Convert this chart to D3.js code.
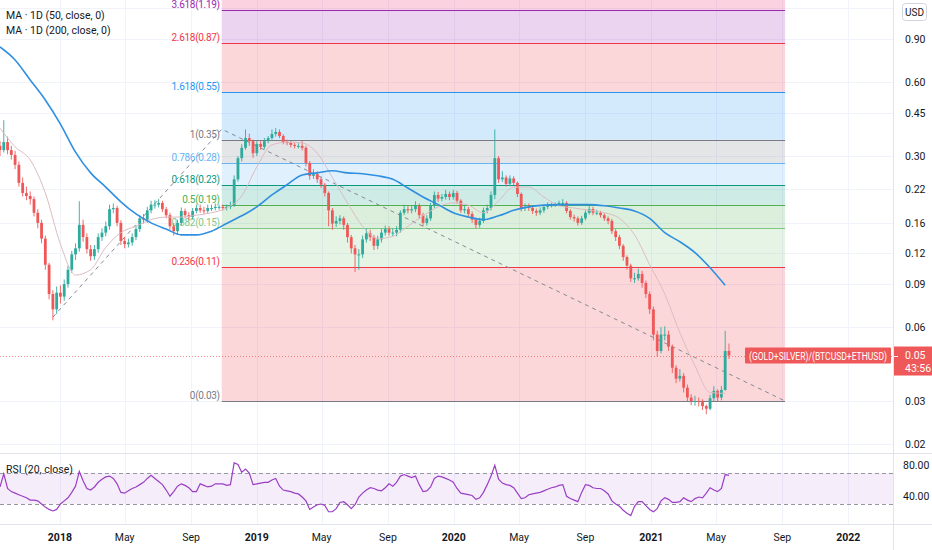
<!DOCTYPE html>
<html>
<head>
<meta charset="utf-8">
<script src="https://cdnjs.cloudflare.com/ajax/libs/d3/7.8.5/d3.min.js"></script>
<style>
  body { margin: 0; background: #fff; }
  svg { display: block; font-family: Roboto, "Liberation Sans", sans-serif; }
</style>
</head>
<body>
<svg width="932" height="550"></svg>
<script>

// DATA ––––––––––––––––––––––––––––––––––––––––––––––––––––––––––––––––

var startDate = "2017-09-12";   // first weekly candle
var candleStep = 7;             // days per candle
var openFirst = 0.330;

var closes = [
  0.317,0.342,0.317,0.303,0.276,0.233,0.212,0.206,0.200,0.176,
  0.160,0.138,0.108,0.082,0.071,0.083,0.080,0.090,0.103,0.119,
  0.126,0.157,0.140,0.125,0.117,0.125,0.140,0.146,0.155,0.182,
  0.184,0.160,0.135,0.131,0.133,0.140,0.151,0.167,0.165,0.180,
  0.190,0.190,0.193,0.182,0.172,0.155,0.148,0.160,0.179,0.172,
  0.169,0.179,0.184,0.180,0.179,0.184,0.184,0.186,0.186,0.184,
  0.186,0.189,0.241,0.294,0.324,0.355,0.345,0.308,0.336,0.327,
  0.345,0.355,0.369,0.376,0.362,0.342,0.339,0.333,0.330,0.330,
  0.324,0.281,0.249,0.253,0.241,0.229,0.212,0.180,0.159,0.163,
  0.167,0.157,0.140,0.126,0.119,0.119,0.137,0.145,0.140,0.129,
  0.137,0.146,0.151,0.146,0.146,0.150,0.176,0.182,0.180,0.182,
  0.188,0.172,0.160,0.167,0.188,0.208,0.201,0.204,0.210,0.204,
  0.212,0.197,0.180,0.182,0.174,0.165,0.157,0.163,0.180,0.184,
  0.208,0.294,0.241,0.245,0.231,0.243,0.233,0.210,0.184,0.186,
  0.184,0.179,0.176,0.180,0.186,0.189,0.189,0.190,0.193,0.193,
  0.179,0.169,0.167,0.160,0.167,0.176,0.182,0.176,0.176,0.172,
  0.167,0.163,0.148,0.140,0.129,0.116,0.107,0.095,0.095,0.099,
  0.091,0.082,0.071,0.056,0.048,0.056,0.056,0.050,0.041,0.037,
  0.038,0.034,0.031,0.030,0.030,0.0297,0.0286,0.0279,0.0308,0.033,
  0.031,0.0333,0.048,0.046
];

var highs = [
  0.345,0.42,0.36,0.33,0.315,0.285,0.245,0.225,0.215,0.205,
  0.182,0.165,0.142,0.11,0.085,0.088,0.089,0.094,0.107,0.123,
  0.132,0.196,0.165,0.145,0.13,0.13,0.145,0.152,0.162,0.19,
  0.192,0.188,0.164,0.14,0.138,0.145,0.156,0.172,0.174,0.186,
  0.197,0.198,0.20,0.197,0.186,0.176,0.16,0.165,0.185,0.183,
  0.177,0.184,0.19,0.19,0.186,0.19,0.19,0.192,0.19,0.19,
  0.19,0.195,0.25,0.30,0.335,0.385,0.37,0.35,0.345,0.345,
  0.355,0.362,0.385,0.39,0.385,0.368,0.35,0.345,0.34,0.338,
  0.345,0.33,0.286,0.265,0.26,0.246,0.233,0.215,0.184,0.17,
  0.172,0.17,0.16,0.143,0.13,0.125,0.142,0.152,0.15,0.143,
  0.142,0.151,0.156,0.155,0.152,0.155,0.18,0.19,0.188,0.188,
  0.196,0.192,0.176,0.172,0.193,0.215,0.214,0.21,0.218,0.215,
  0.218,0.216,0.20,0.188,0.186,0.178,0.168,0.168,0.185,0.19,
  0.215,0.385,0.30,0.26,0.25,0.25,0.248,0.236,0.213,0.192,
  0.192,0.188,0.183,0.185,0.19,0.194,0.193,0.194,0.197,0.20,
  0.196,0.182,0.173,0.17,0.171,0.18,0.19,0.186,0.181,0.179,
  0.175,0.17,0.166,0.151,0.143,0.131,0.118,0.109,0.10,0.104,
  0.102,0.093,0.084,0.073,0.058,0.06,0.0605,0.058,0.051,0.042,
  0.0405,0.039,0.035,0.032,0.0315,0.031,0.0305,0.029,0.0318,0.0345,
  0.0335,0.0345,0.058,0.0515
];

var lows = [
  0.30,0.31,0.305,0.29,0.265,0.225,0.205,0.198,0.19,0.17,
  0.152,0.132,0.103,0.078,0.064,0.068,0.075,0.077,0.087,0.10,
  0.113,0.122,0.134,0.12,0.112,0.113,0.121,0.135,0.141,0.15,
  0.175,0.155,0.13,0.126,0.127,0.129,0.136,0.147,0.159,0.16,
  0.175,0.183,0.185,0.177,0.167,0.15,0.142,0.144,0.156,0.167,
  0.164,0.165,0.175,0.176,0.174,0.175,0.179,0.18,0.181,0.18,
  0.18,0.182,0.186,0.236,0.285,0.318,0.33,0.295,0.30,0.318,
  0.32,0.338,0.35,0.36,0.355,0.335,0.332,0.325,0.322,0.322,
  0.316,0.272,0.24,0.242,0.233,0.222,0.205,0.155,0.15,0.154,
  0.158,0.15,0.133,0.12,0.101,0.103,0.115,0.133,0.135,0.124,
  0.125,0.133,0.142,0.142,0.141,0.141,0.146,0.172,0.175,0.175,
  0.177,0.166,0.155,0.156,0.163,0.184,0.195,0.196,0.199,0.198,
  0.199,0.192,0.176,0.175,0.169,0.16,0.152,0.153,0.16,0.175,
  0.18,0.20,0.233,0.235,0.225,0.226,0.228,0.204,0.178,0.179,
  0.179,0.174,0.171,0.172,0.176,0.182,0.185,0.186,0.187,0.188,
  0.175,0.165,0.162,0.156,0.157,0.164,0.173,0.172,0.172,0.168,
  0.163,0.158,0.144,0.135,0.125,0.112,0.103,0.092,0.091,0.093,
  0.087,0.079,0.068,0.053,0.0455,0.047,0.053,0.048,0.039,0.0355,
  0.036,0.0325,0.0298,0.0288,0.0287,0.0285,0.0276,0.0265,0.0275,0.030,
  0.0298,0.0302,0.033,0.0445
];

var maStep = 28;   // days between moving average samples
var ma50 = [
  0.390,0.327,0.289,0.212,0.131,0.098,0.103,0.127,0.146,0.155,
  0.165,0.169,0.169,0.172,0.176,0.184,0.206,0.271,0.333,0.342,
  0.339,0.308,0.245,0.193,0.155,0.138,0.141,0.155,0.171,0.186,
  0.193,0.189,0.176,0.197,0.224,0.224,0.204,0.188,0.184,0.180,
  0.176,0.167,0.143,0.108,0.082,0.057,0.0417,0.0325,0.0322
];
var ma200 = [
  0.836,0.740,0.613,0.508,0.405,0.311,0.256,0.224,0.195,0.174,
  0.160,0.151,0.143,0.143,0.148,0.159,0.171,0.186,0.208,0.229,
  0.251,0.256,0.261,0.256,0.254,0.249,0.241,0.222,0.204,0.190,
  0.176,0.169,0.165,0.171,0.180,0.186,0.189,0.190,0.190,0.190,
  0.188,0.184,0.179,0.167,0.146,0.134,0.121,0.105,0.089
];

var rsi = [
  52,69,50,46,44,42,40,38,35,35,
  34,30,26,23,21,23,30,34,38,45,
  53,72,60,50,48,52,58,62,65,66,
  63,56,45,44,47,50,52,55,58,63,
  67,63,59,55,48,40,46,53,56,54,
  51,46,46,56,54,52,53,56,56,56,
  54,55,83,81,71,75,70,55,56,57,
  58,58,61,63,53,48,47,46,44,43,
  39,34,23,26,29,30,28,20,20,24,
  32,33,29,24,29,39,44,48,51,50,
  48,47,51,56,53,58,66,68,66,64,
  66,55,46,47,52,63,66,65,63,61,
  58,50,44,43,42,41,36,38,45,55,
  66,80,62,57,55,54,51,44,37,38,
  42,43,44,45,47,49,51,52,54,55,
  40,37,35,33,45,55,54,51,50,50,
  47,43,34,30,27,22,18,15,27,33,
  33,28,23,20,24,34,38,36,32,32,
  33,38,35,33,37,39,38,44,51,48,
  46,50,68,67
];

// trend based fib extension: A -> B, projected from C
var fibA = ["2017-12-19", 0.066],
    fibB = ["2018-10-28", 0.386],
    fibC = ["2021-09-06", 0.030];
var fibRatios = [0, 0.236, 0.382, 0.5, 0.618, 0.786, 1, 1.618, 2.618, 3.618, 4.236];
var fibColors = ["#787b86", "#f23645", "#81c784", "#4caf50", "#089981", "#64b5f6",
                 "#787b86", "#2196f3", "#f23645", "#9c27b0", "#e91e63"];

var priceTicks = [1.2, 0.9, 0.6, 0.45, 0.3, 0.22, 0.16, 0.12, 0.09, 0.06, 0.03, 0.02];
var rsiTicks = [80, 40];
var rsiBand = [30, 70];
var lastPrice = 0.046, lastLabel = "0.05", countdown = "43:56";
var symbol = "(GOLD+SILVER)/(BTCUSD+ETHUSD)";
var legend = ["MA · 1D (50, close, 0)", "MA · 1D (200, close, 0)"];
var rsiLegend = "RSI (20, close)";


// D3 ––––––––––––––––––––––––––––––––––––––––––––––––––––––––––––––––––

var draw = function() {

  var svg = d3.select("svg"),
      plotRight = 893,
      mainBottom = 453,
      rsiTop = 454, rsiBottom = 524,
      grid = "#f0f3fa", border = "#e0e3eb", textCol = "#131722",
      up = "#2fab9d", down = "#ef5858";

  var parse = d3.utcParse("%Y-%m-%d"),
      t0 = parse(startDate);

  var x = d3.scaleUtc()
    .domain([t0, parse("2022-03-25")])
    .range([0, plotRight]);

  var y = d3.scaleLog()
    .domain([0.03, 0.3])
    .range([401, 156]);

  var yr = d3.scaleLinear()
    .domain([0, 100])
    .range([527.25, 449.75]);

  var defs = svg.append("defs");
  defs.append("clipPath").attr("id", "clipMain")
    .append("rect").attr("x", 0).attr("y", 0).attr("width", plotRight).attr("height", mainBottom);
  defs.append("clipPath").attr("id", "clipRsi")
    .append("rect").attr("x", 0).attr("y", rsiTop).attr("width", plotRight).attr("height", rsiBottom - rsiTop);

  // grid
  var timeTicks = x.ticks(d3.utcMonth.every(4));
  svg.append("g").selectAll("line").data(timeTicks).enter().append("line")
    .attr("x1", function(d) { return Math.round(x(d)) + 0.5; })
    .attr("x2", function(d) { return Math.round(x(d)) + 0.5; })
    .attr("y1", 0).attr("y2", rsiBottom)
    .attr("stroke", grid);
  svg.append("g").selectAll("line").data(priceTicks).enter().append("line")
    .attr("x1", 0).attr("x2", plotRight)
    .attr("y1", function(d) { return Math.round(y(d)) + 0.5; })
    .attr("y2", function(d) { return Math.round(y(d)) + 0.5; })
    .attr("stroke", grid);

  // fib extension
  var main = svg.append("g").attr("clip-path", "url(#clipMain)");
  var fx1 = x(parse(fibB[0])), fx2 = x(parse(fibC[0])),
      move = fibB[1] - fibA[1];
  var levels = fibRatios.map(function(r, i) {
    return {r: r, price: fibC[1] + r * move, color: fibColors[i]};
  });

  var fib = main.append("g");
  for (var i = 0; i < levels.length - 1; i++) {
    var lo = levels[i], hi = levels[i + 1];
    fib.append("rect")
      .attr("x", fx1).attr("width", fx2 - fx1)
      .attr("y", y(hi.price)).attr("height", y(lo.price) - y(hi.price))
      .attr("fill", hi.color).attr("fill-opacity", 0.2);
  }
  fib.selectAll("line").data(levels).enter().append("line")
    .attr("x1", fx1).attr("x2", fx2)
    .attr("y1", function(d) { return Math.round(y(d.price)) + 0.5; })
    .attr("y2", function(d) { return Math.round(y(d.price)) + 0.5; })
    .attr("stroke", function(d) { return d.color; });
  fib.selectAll("text").data(levels).enter().append("text")
    .attr("x", fx1 - 2)
    .attr("y", function(d) { return y(d.price) - 2; })
    .attr("text-anchor", "end")
    .attr("font-size", "10px")
    .attr("letter-spacing", "-0.3px")
    .attr("fill", function(d) { return d.color; })
    .text(function(d) { return d.r + "(" + d.price.toFixed(2) + ")"; });

  // trend lines A -> B -> C
  main.append("path")
    .attr("d", d3.line()([[x(parse(fibA[0])), y(fibA[1])], [fx1, y(fibB[1])], [fx2, y(fibC[1])]]))
    .attr("fill", "none")
    .attr("stroke", "#868993")
    .attr("stroke-dasharray", "4,4");

  // candles
  var candles = closes.map(function(c, i) {
    return {
      date: d3.utcDay.offset(t0, i * candleStep),
      open: i === 0 ? openFirst : closes[i - 1],
      close: c, high: highs[i], low: lows[i]
    };
  });
  var cg = main.append("g").selectAll("g").data(candles).enter().append("g");
  cg.append("line")
    .attr("x1", function(d) { return x(d.date); })
    .attr("x2", function(d) { return x(d.date); })
    .attr("y1", function(d) { return y(d.high); })
    .attr("y2", function(d) { return y(d.low); })
    .attr("stroke", function(d) { return d.close >= d.open ? up : down; })
    .attr("stroke-width", 0.9);
  cg.append("rect")
    .attr("x", function(d) { return x(d.date) - 1.4; })
    .attr("width", 2.8)
    .attr("y", function(d) { return y(Math.max(d.open, d.close)); })
    .attr("height", function(d) { return Math.max(1, Math.abs(y(d.open) - y(d.close))); })
    .attr("fill", function(d) { return d.close >= d.open ? up : down; });

  // moving averages
  var maLine = d3.line()
    .x(function(d, i) { return x(d3.utcDay.offset(t0, i * maStep)); })
    .y(function(d) { return y(d); })
    .curve(d3.curveMonotoneX);
  main.append("path").datum(ma50)
    .attr("d", maLine)
    .attr("fill", "none")
    .attr("stroke", "#dcbcc2")
    .attr("stroke-width", 1);
  main.append("path").datum(ma200)
    .attr("d", maLine)
    .attr("fill", "none")
    .attr("stroke", "#2f8fe0")
    .attr("stroke-width", 1.6);

  // last price line
  main.append("line")
    .attr("x1", 0).attr("x2", plotRight)
    .attr("y1", Math.round(y(lastPrice)) + 0.5).attr("y2", Math.round(y(lastPrice)) + 0.5)
    .attr("stroke", down).attr("stroke-opacity", 0.7)
    .attr("stroke-dasharray", "1,2");

  // legend
  svg.append("g").selectAll("text").data(legend).enter().append("text")
    .attr("x", 6).attr("y", function(d, i) { return 19 + i * 15; })
    .attr("font-size", "10.5px")
    .attr("fill", textCol)
    .text(function(d) { return d; });

  // RSI pane
  var rp = svg.append("g").attr("clip-path", "url(#clipRsi)");
  rp.append("rect")
    .attr("x", 0).attr("width", plotRight)
    .attr("y", yr(rsiBand[1])).attr("height", yr(rsiBand[0]) - yr(rsiBand[1]))
    .attr("fill", "#a64fd8").attr("fill-opacity", 0.1);
  rp.selectAll("line.band").data(rsiBand).enter().append("line")
    .attr("x1", 0).attr("x2", plotRight)
    .attr("y1", function(d) { return Math.round(yr(d)) + 0.5; })
    .attr("y2", function(d) { return Math.round(yr(d)) + 0.5; })
    .attr("stroke", "#9598a1")
    .attr("stroke-dasharray", "4,3");
  rp.append("path").datum(rsi)
    .attr("d", d3.line()
      .x(function(d, i) { return x(d3.utcDay.offset(t0, i * candleStep)); })
      .y(function(d) { return yr(d); }))
    .attr("fill", "none")
    .attr("stroke", "#9a3fc4")
    .attr("stroke-width", 1.2);
  svg.append("text")
    .attr("x", 6).attr("y", 473)
    .attr("font-size", "10.5px")
    .attr("fill", textCol)
    .text(rsiLegend);

  // borders
  svg.append("line").attr("x1", plotRight + 0.5).attr("x2", plotRight + 0.5)
    .attr("y1", 0).attr("y2", 550).attr("stroke", border);
  svg.append("line").attr("x1", 0).attr("x2", 932)
    .attr("y1", mainBottom + 0.5).attr("y2", mainBottom + 0.5).attr("stroke", border);
  svg.append("line").attr("x1", 0).attr("x2", 932)
    .attr("y1", rsiBottom + 0.5).attr("y2", rsiBottom + 0.5).attr("stroke", border);

  // price axis
  svg.append("g").selectAll("text").data(priceTicks).enter().append("text")
    .attr("x", 905).attr("y", function(d) { return y(d); })
    .attr("dy", "0.35em")
    .attr("font-size", "10.5px")
    .attr("fill", textCol)
    .text(function(d) { return d.toFixed(2); });
  svg.append("g").selectAll("text").data(rsiTicks).enter().append("text")
    .attr("x", 903).attr("y", function(d) { return yr(d); })
    .attr("dy", "0.35em")
    .attr("font-size", "10.5px")
    .attr("fill", textCol)
    .text(function(d) { return d.toFixed(2); });

  svg.append("rect")
    .attr("x", 902.5).attr("y", 3.5).attr("width", 24).attr("height", 17).attr("rx", 3)
    .attr("fill", "#fff").attr("stroke", "#d1d4dc");
  svg.append("text")
    .attr("x", 914.5).attr("y", 15.5)
    .attr("text-anchor", "middle")
    .attr("font-size", "10px")
    .attr("fill", textCol)
    .text("USD");

  // time axis
  svg.append("g").selectAll("text").data(timeTicks).enter().append("text")
    .attr("x", function(d) { return x(d); })
    .attr("y", 541)
    .attr("text-anchor", "middle")
    .attr("font-size", "10.5px")
    .attr("font-weight", function(d) { return d.getUTCMonth() === 0 ? "bold" : "normal"; })
    .attr("fill", textCol)
    .text(function(d) { return d.getUTCMonth() === 0 ? d.getUTCFullYear() : d3.utcFormat("%b")(d); });

  // last price labels
  var py = y(lastPrice);
  svg.append("rect")
    .attr("x", 745).attr("y", py - 8).attr("width", 146).attr("height", 16).attr("rx", 1)
    .attr("fill", down);
  svg.append("text")
    .attr("x", 818).attr("y", py + 4)
    .attr("text-anchor", "middle")
    .attr("font-size", "10.5px")
    .attr("textLength", 138).attr("lengthAdjust", "spacingAndGlyphs")
    .attr("fill", "#fff")
    .text(symbol);
  svg.append("rect")
    .attr("x", plotRight + 1).attr("y", py - 9).attr("width", 932 - plotRight - 1).attr("height", 29)
    .attr("fill", down);
  svg.append("line")
    .attr("x1", plotRight + 1).attr("x2", plotRight + 5)
    .attr("y1", Math.round(py) + 0.5).attr("y2", Math.round(py) + 0.5)
    .attr("stroke", "#fff");
  svg.append("text")
    .attr("x", 905).attr("y", py).attr("dy", "0.35em")
    .attr("font-size", "10.5px").attr("fill", "#fff")
    .text(lastLabel);
  svg.append("text")
    .attr("x", 905).attr("y", py + 13).attr("dy", "0.35em")
    .attr("font-size", "10.5px").attr("fill", "#fff")
    .text(countdown);
};

draw();
</script>
</body>
</html>
